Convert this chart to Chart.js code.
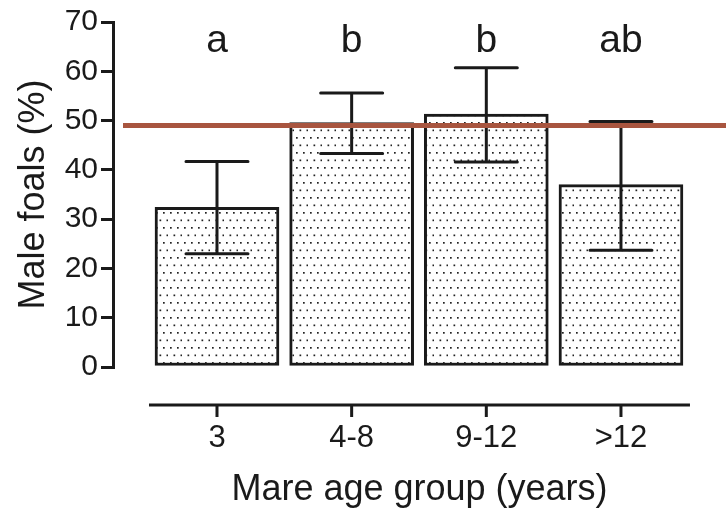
<!DOCTYPE html>
<html>
<head>
<meta charset="utf-8">
<script src="https://cdn.jsdelivr.net/npm/chart.js@4/dist/chart.umd.min.js"></script>
<style>
  html, body { margin: 0; padding: 0; background: #fff; }
  #wrap { width: 726px; height: 512px; }
</style>
</head>
<body>
<div id="wrap"><canvas id="canvas" width="726" height="512"></canvas></div>
<script>
// mare age groups and % male foals (mean, with upper / lower error limits)
var groups = ['3', '4-8', '9-12', '>12'];
var malePct = [32.4, 49.6, 51.3, 37.0];
var errHigh = [41.7, 55.6, 60.7, 49.8];
var errLow = [23.0, 43.3, 41.6, 23.7];
var sigLetters = ['a', 'b', 'b', 'ab'];
var refLine = 49;

var ink = '#1a1a1a';
var fontFam = '"Liberation Sans", Arial, sans-serif';

// dotted fill like the original figure
function dotPattern() {
    var c = document.createElement('canvas');
    c.width = 14;
    c.height = 15;
    var g = c.getContext('2d');
    g.fillStyle = '#fff';
    g.fillRect(0, 0, 14, 15);
    g.fillStyle = '#222';
    g.fillRect(2, 2, 1.7, 1.7);
    g.fillRect(9, 2, 1.7, 1.7);
    g.fillRect(5.5, 9.5, 1.7, 1.7);
    g.fillRect(12.5, 9.5, 1.7, 1.7);
    return document.getElementById('canvas').getContext('2d').createPattern(c, 'repeat');
}

var extras = {
    id: 'extras',
    afterDatasetsDraw: function (chart) {
        var ctx = chart.ctx;
        var x = chart.scales.x, y = chart.scales.y;
        var area = chart.chartArea;
        ctx.save();
        ctx.strokeStyle = ink;
        ctx.lineWidth = 3;
        ctx.lineCap = 'round';
        // error bars
        malePct.forEach(function (v, i) {
            var cx = x.getPixelForValue(i + 1);
            var hi = y.getPixelForValue(errHigh[i]);
            var lo = y.getPixelForValue(errLow[i]);
            ctx.beginPath();
            ctx.moveTo(cx, hi);
            ctx.lineTo(cx, lo);
            ctx.moveTo(cx - 31, hi);
            ctx.lineTo(cx + 31, hi);
            ctx.moveTo(cx - 31, lo);
            ctx.lineTo(cx + 31, lo);
            ctx.stroke();
        });
        // separated x axis line with ticks
        var axY = area.bottom + 38;
        ctx.lineCap = 'butt';
        ctx.beginPath();
        ctx.moveTo(x.getPixelForValue(1) - 68, axY);
        ctx.lineTo(x.getPixelForValue(4) + 69, axY);
        groups.forEach(function (g, i) {
            var cx = x.getPixelForValue(i + 1);
            ctx.moveTo(cx, axY);
            ctx.lineTo(cx, axY + 12);
        });
        ctx.stroke();
        // reference line at 50:50
        var ry = y.getPixelForValue(refLine);
        ctx.strokeStyle = '#a8553f';
        ctx.lineWidth = 5;
        ctx.beginPath();
        ctx.moveTo(area.left + 10, ry);
        ctx.lineTo(chart.width, ry);
        ctx.stroke();
        // significance letters
        ctx.fillStyle = ink;
        ctx.font = '39px ' + fontFam;
        ctx.textAlign = 'center';
        ctx.textBaseline = 'middle';
        sigLetters.forEach(function (s, i) {
            ctx.fillText(s, x.getPixelForValue(i + 1), area.top + 19);
        });
        ctx.restore();
    }
};

window.onload = function () {
    var ctx = document.getElementById('canvas').getContext('2d');
    window.myBar = new Chart(ctx, {
        type: 'bar',
        data: {
            datasets: [{
                label: 'Male foals',
                data: malePct.map(function (v, i) { return { x: i + 1, y: v }; }),
                backgroundColor: dotPattern(),
                borderColor: ink,
                borderWidth: 3,
                borderSkipped: false,
                barThickness: 124,
            }]
        },
        options: {
            responsive: false,
            animation: false,
            layout: { padding: { top: 22, left: 0, right: 0, bottom: 0 } },
            plugins: {
                legend: { display: false },
                tooltip: { enabled: false }
            },
            scales: {
                x: {
                    type: 'linear',
                    offset: false,
                    min: 0.2277,
                    max: 4.78,
                    afterBuildTicks: function (scale) {
                        scale.ticks = groups.map(function (g, i) { return { value: i + 1 }; });
                    },
                    afterFit: function (scale) { scale.height = 145; },
                    grid: { display: false, drawTicks: false, offset: false },
                    border: { display: false },
                    ticks: {
                        color: ink,
                        padding: 53,
                        maxRotation: 0,
                        font: { family: fontFam, size: 31 },
                        callback: function (v) { return groups[v - 1]; }
                    },
                    title: {
                        display: true,
                        text: 'Mare age group (years)',
                        color: ink,
                        font: { family: fontFam, size: 36 },
                        padding: { top: 0, bottom: 0 }
                    }
                },
                y: {
                    min: 0,
                    max: 70,
                    afterFit: function (scale) { scale.width = 113; },
                    grid: {
                        display: true,
                        drawOnChartArea: false,
                        drawTicks: true,
                        tickLength: 12,
                        color: ink,
                        lineWidth: 3
                    },
                    border: { display: true, color: ink, width: 3 },
                    ticks: {
                        stepSize: 10,
                        color: ink,
                        padding: 3,
                        font: { family: fontFam, size: 30 }
                    },
                    title: {
                        display: true,
                        text: 'Male foals (%)',
                        color: ink,
                        font: { family: fontFam, size: 36 },
                        padding: { top: 12, bottom: 0 }
                    }
                }
            }
        },
        plugins: [extras]
    });
};
</script>
</body>
</html>
